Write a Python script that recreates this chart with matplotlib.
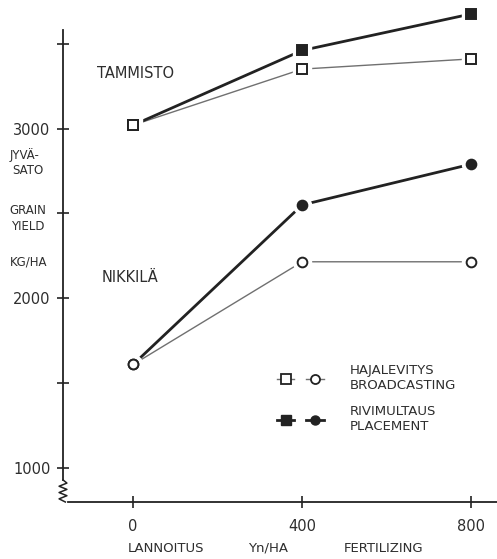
import matplotlib
matplotlib.use("Agg")
import matplotlib.pyplot as plt
import numpy as np
from matplotlib.legend_handler import HandlerTuple
from matplotlib.lines import Line2D

# ---- data ----
n_rate = [0, 400, 800]
tammisto_broad = [3020, 3350, 3410]
tammisto_place = [3020, 3460, 3675]
nikkila_broad = [1610, 2215, 2215]
nikkila_place = [1610, 2550, 2790]

y_ticks = [1000, 1500, 2000, 2500, 3000, 3500]
y_labels = ['1000', '', '2000', '', '3000', '']
x_ticks = [0, 400, 800]

W, H = 497, 559
plt.rcParams['font.family'] = ['DejaVu Sans']
ink = '#222222'
grey = '#707070'
txt = '#2e2e2e'

fig = plt.figure(figsize=(W / 100, H / 100), dpi=100)
ax = fig.add_axes([63 / W, (H - 502) / H, (W - 63) / W, 502 / H])
ax.set_xlim(-166, 861)
ax.set_ylim(800, 3757)


def px(x, y):
    return x / W, 1 - y / H


def series(xs, ys, marker, filled, lw, col, skip_first=False):
    ax.plot(xs, ys, '-', color=col, lw=lw, zorder=2, solid_capstyle='butt')
    idx = [1, 2] if skip_first else [0, 1, 2]
    mx = [xs[i] for i in idx]
    my = [ys[i] for i in idx]
    ms = 7 if marker == 's' else 7
    # white halo so the lines stop short of the markers
    ax.plot(mx, my, marker, ms=ms + 6, color='white', mec='white', zorder=3)
    ax.plot(mx, my, marker, ms=ms, mfc=ink if filled else 'white',
            mec=ink, mew=1.4, zorder=4)


series(n_rate, tammisto_broad, 's', False, 1.0, grey)
series(n_rate, tammisto_place, 's', True, 2.0, ink, skip_first=True)
series(n_rate, nikkila_broad, 'o', False, 1.0, grey)
series(n_rate, nikkila_place, 'o', True, 2.0, ink, skip_first=True)
# redraw the common control points on top
ax.plot([0], [tammisto_broad[0]], 's', ms=7, mfc='white', mec=ink, mew=1.4, zorder=5)
ax.plot([0], [nikkila_broad[0]], 'o', ms=7, mfc='white', mec=ink, mew=1.4, zorder=5)

# axes styling
for s in ['top', 'right']:
    ax.spines[s].set_visible(False)
ax.spines['left'].set_bounds(930, 3580)
ax.spines['left'].set_color(ink)
ax.spines['left'].set_linewidth(1.3)
ax.spines['bottom'].set_bounds(-155, 861)
ax.spines['bottom'].set_color(ink)
ax.spines['bottom'].set_linewidth(1.3)

ax.set_yticks(y_ticks)
ax.set_yticklabels(y_labels)
ax.set_xticks(x_ticks)
ax.set_xticklabels([str(v) for v in x_ticks])
ax.tick_params(axis='both', direction='inout', length=8, width=1.2, colors=ink,
               labelsize=10.5, labelcolor=txt)
ax.tick_params(axis='y', pad=5)
ax.tick_params(axis='x', pad=8)

# axis break zigzag between the y spine and x axis
zz_y = np.linspace(930, 800, 8)
zz_x = np.array([0, 1, -1, 1, -1, 1, -1, 0.6]) * 0.009
ax.plot(zz_x, zz_y, color=ink, lw=1.1, transform=ax.get_yaxis_transform(),
        clip_on=False)

# site labels
fig.text(*px(97, 74), 'TAMMISTO', fontsize=10.5, va='center', ha='left', color=txt)
fig.text(*px(102, 277), 'NIKKILÄ', fontsize=10.5, va='center', ha='left', color=txt)

# y axis caption
for t, (x, y) in [('JYVÄ-', (10, 155)), ('SATO', (12, 171)),
                  ('GRAIN', (9, 210)), ('YIELD', (11, 226)),
                  ('KG/HA', (10, 262))]:
    fig.text(*px(x, y), t, fontsize=8.5, va='center', ha='left', color=txt)

# x axis caption
for t, x in [('LANNOITUS', 166), ('Yn/HA', 268), ('FERTILIZING', 384)]:
    fig.text(*px(x, 548), t, fontsize=9.5, va='center', ha='center', color=txt)

# legend
h_bs = Line2D([], [], color=grey, lw=1.0, marker='s', ms=6.5, mfc='white', mec=ink, mew=1.3)
h_bc = Line2D([], [], color=grey, lw=1.0, marker='o', ms=6.5, mfc='white', mec=ink, mew=1.3)
h_ps = Line2D([], [], color=ink, lw=2.0, marker='s', ms=6.5, mfc=ink, mec=ink)
h_pc = Line2D([], [], color=ink, lw=2.0, marker='o', ms=6.5, mfc=ink, mec=ink)
leg = ax.legend([(h_bs, h_bc), (h_ps, h_pc)],
                ['HAJALEVITYS\nBROADCASTING', 'RIVIMULTAUS\nPLACEMENT'],
                handler_map={tuple: HandlerTuple(ndivide=None, pad=0.9)},
                handlelength=3.6, frameon=False, fontsize=9.5,
                labelspacing=1.0, handletextpad=1.9,
                loc='upper left', bbox_to_anchor=(0.465, 0.298))
for t in leg.get_texts():
    t.set_color(txt)

fig.savefig('out.png', dpi=100)
